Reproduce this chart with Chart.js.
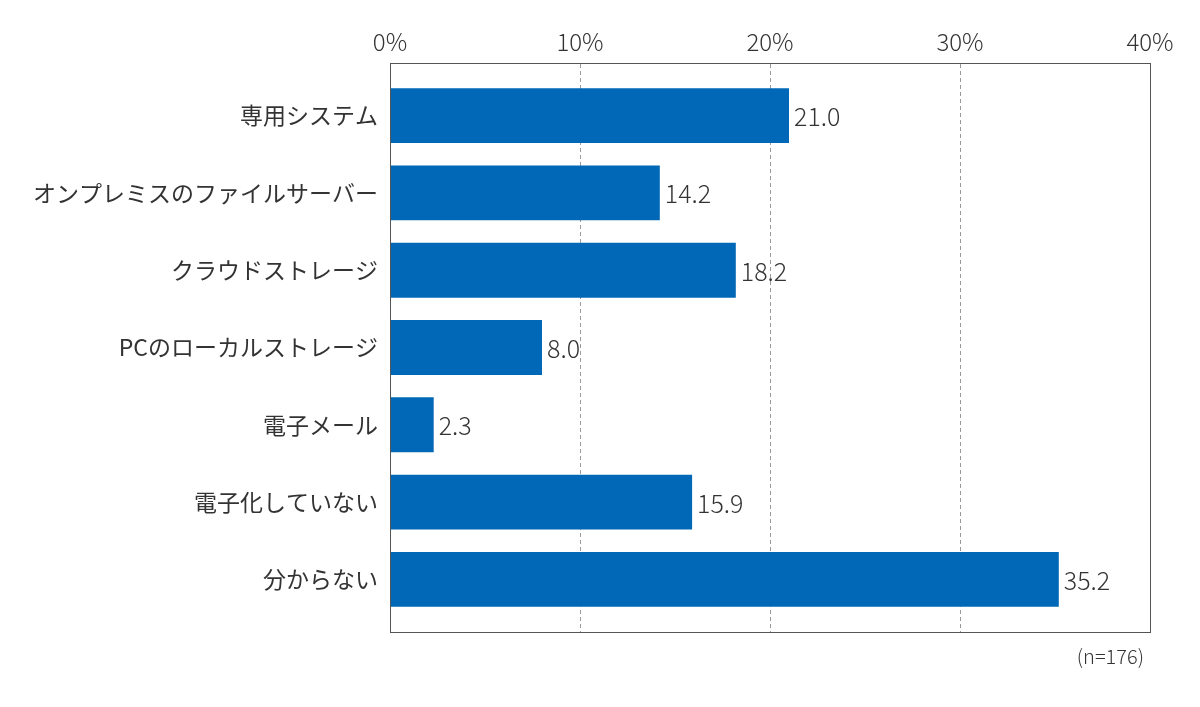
<!DOCTYPE html>
<html>
<head>
<meta charset="utf-8">
<script src="https://cdn.jsdelivr.net/npm/chart.js@4.4.1/dist/chart.umd.min.js"></script>
<style>
  html, body { margin: 0; padding: 0; background: #fff; }
  #wrap { width: 1200px; height: 707px; }
</style>
</head>
<body>
<div id="wrap"><canvas id="storageChart" width="1200" height="707"></canvas></div>
<script>
// 保存先の回答 (n=176)
const categories = ["専用システム", "オンプレミスのファイルサーバー", "クラウドストレージ", "PCのローカルストレージ", "電子メール", "電子化していない", "分からない"];
const shares = [21.0, 14.2, 18.2, 8.0, 2.3, 15.9, 35.2];
const xTicks = [0, 10, 20, 30, 40];
const sampleNote = "(n=176)";

const FONT = "'Noto Sans CJK JP', 'Noto Sans', sans-serif";
const BAR_COLOR = "#0068b6";
const TEXT_COLOR = "#333333";

// 棒の右に数値、右下にn数、枠線
const extrasPlugin = {
    id: "extras",
    afterDatasetsDraw(chart) {
        const ctx = chart.ctx;
        const area = chart.chartArea;
        const meta = chart.getDatasetMeta(0);

        ctx.save();
        ctx.font = "300 25px " + FONT;
        ctx.fillStyle = TEXT_COLOR;
        ctx.textAlign = "left";
        ctx.textBaseline = "middle";
        meta.data.forEach((bar, i) => {
            ctx.fillText(shares[i].toFixed(1), bar.x + 5, bar.y + 1);
        });

        ctx.strokeStyle = "#555555";
        ctx.lineWidth = 1;
        ctx.strokeRect(area.left + 0.5, area.top + 0.5, area.right - area.left, area.bottom - area.top);

        ctx.font = "300 20px " + FONT;
        ctx.textAlign = "right";
        ctx.fillText(sampleNote, area.right - 6, area.bottom + 24);
        ctx.restore();
    }
};

const ctx = document.getElementById("storageChart").getContext("2d");
new Chart(ctx, {
    type: "bar",
    data: {
        datasets: [{
            data: shares.map((v, i) => ({ x: v, y: i })),
            backgroundColor: BAR_COLOR,
            borderWidth: 0,
            barPercentage: 0.71,
            categoryPercentage: 1.0
        }]
    },
    options: {
        indexAxis: "y",
        responsive: false,
        animation: false,
        layout: { padding: { left: 0, right: 50, top: 0, bottom: 75 } },
        plugins: {
            legend: { display: false },
            tooltip: { enabled: false }
        },
        scales: {
            x: {
                type: "linear",
                position: "top",
                min: 0,
                max: 40,
                afterBuildTicks: scale => { scale.ticks = xTicks.map(v => ({ value: v })); },
                afterFit: scale => { scale.height = 63; },
                ticks: {
                    padding: 7,
                    color: TEXT_COLOR,
                    font: { family: FONT, size: 24, weight: "300" },
                    callback: v => v + "%"
                },
                grid: {
                    drawTicks: false,
                    color: "#9a9a9a",
                    lineWidth: 1
                },
                border: { display: true, color: "#555555", dash: [4, 3] }
            },
            y: {
                type: "linear",
                offset: false,
                min: -0.68,
                max: 6.68,
                reverse: true,
                afterBuildTicks: scale => { scale.ticks = categories.map((c, i) => ({ value: i })); },
                afterFit: scale => { scale.width = 390; },
                ticks: {
                    padding: 12,
                    color: TEXT_COLOR,
                    font: { family: FONT, size: 23 },
                    callback: v => categories[v]
                },
                grid: { display: false, drawTicks: false },
                border: { display: true, color: "#555555" }
            }
        }
    },
    plugins: [extrasPlugin]
});
</script>
</body>
</html>
